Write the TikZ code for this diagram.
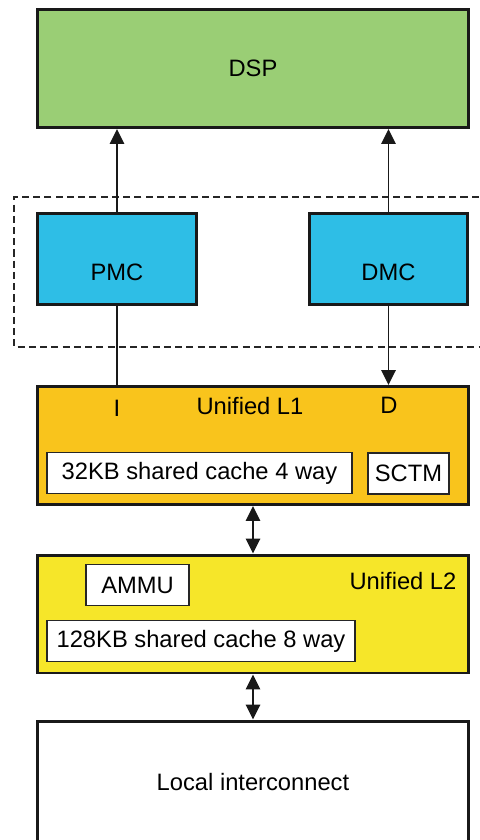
\documentclass[tikz,border=0pt]{standalone}
\usepackage{fontspec}
\setmainfont{Liberation Sans}
\usetikzlibrary{arrows.meta}

\definecolor{dspgreen}{RGB}{154,206,117}
\definecolor{mcblue}{RGB}{46,190,230}
\definecolor{lonegold}{RGB}{249,196,28}
\definecolor{ltwoyellow}{RGB}{246,230,41}

\tikzset{
    unit/.style={draw=black!90, line width=1.7pt, minimum width=8.62cm, minimum height=2.36cm},
    ctrl/.style={draw=black!90, line width=1.7pt, fill=mcblue, minimum width=3.18cm, minimum height=1.82cm,
        text height=0.85cm, text depth=0pt},
    inner/.style={draw=black!85, line width=1.1pt, fill=white, minimum height=0.82cm},
    link/.style={line width=1pt, draw=black!90},
    tip/.style={-{Triangle[length=3mm,width=2.9mm]}},
    twotip/.style={{Triangle[length=3mm,width=2.9mm]}-{Triangle[length=3mm,width=2.9mm]}},
}

\begin{document}
\begin{tikzpicture}[x=0.02cm, y=-0.02cm, font=\fontsize{13.5}{16}\selectfont]
    \useasboundingbox (0,0) rectangle (480,840);

    % Define the corners of the dashed group
    \coordinate (grpnw) at (14,197);
    \coordinate (grpne) at (490,197);
    \coordinate (grpse) at (490,347);

    % Main blocks
    \node[unit, fill=dspgreen] (dsp) at (253,68.5) {DSP};
    \node[ctrl] (pmc) at (117,259) {PMC};
    \node[ctrl] (dmc) at (388.5,259) {DMC};
    \node[unit, fill=lonegold] (lone) at (253,445.5) {};
    \node[unit, fill=ltwoyellow] (ltwo) at (253,614) {};
    \node[unit, fill=white, minimum height=2.44cm] (local) at (253,782) {Local interconnect};

    % Parts inside the caches
    \node[inner, minimum width=6.1cm] (cacheone) at (199.5,473) {32KB shared cache 4 way};
    \node[inner, minimum width=1.62cm] (sctm) at (408.5,473.5) {SCTM};
    \node[inner, minimum width=2.06cm] (ammu) at (137.5,585) {AMMU};
    \node[inner, minimum width=6.16cm] (cachetwo) at (201,641) {128KB shared cache 8 way};

    % Labels inside the caches
    \node (iport) at (117,408) {I};
    \node (lonetitle) at (250,406) {Unified L1};
    \node (dport) at (389,405) {D};
    \node (ltwotitle) at (403,581) {Unified L2};

    % Dashed group round the memory controllers
    \draw[line width=0.9pt, black!85, dash pattern=on 4pt off 2.4pt] (grpne) -- (grpnw) |- (grpse);

    % Connections
    \draw[link, tip] (pmc.north) -- (pmc.north |- dsp.south);
    \draw[link, tip] (dmc.north) -- (dmc.north |- dsp.south);
    \draw[link] (pmc.south) -- (pmc.south |- lone.north);
    \draw[link, tip] (dmc.south) -- (dmc.south |- lone.north);
    \draw[link, twotip] (lone.south) -- (ltwo.north);
    \draw[link, twotip] (ltwo.south) -- (local.north);

\end{tikzpicture}
\end{document}
